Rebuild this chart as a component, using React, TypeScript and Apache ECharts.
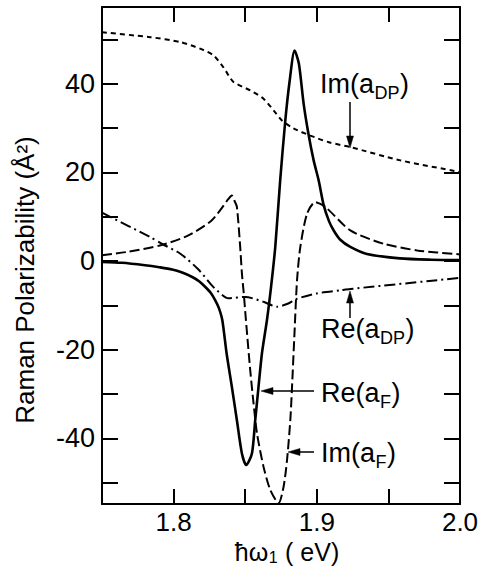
import React, { useEffect, useRef } from "react";
import * as echarts from "echarts";

const xTicks = [1.8, 1.85, 1.9, 1.95];
const xLabels = [1.8, 1.9, 2.0];
const yTicks = [-50, -40, -30, -20, -10, 0, 10, 20, 30, 40, 50];
const yLabels = [-40, -20, 0, 20, 40];

// Re(a_F) — solid
const reF: [number, number][] = [
  [1.75, -0.2], [1.764, -0.4], [1.78, -0.95], [1.79, -1.4], [1.799, -1.9],
  [1.806, -2.6], [1.813, -3.6], [1.818, -4.6], [1.822, -5.8], [1.826, -7.2],
  [1.829, -8.8], [1.8315, -10.5], [1.834, -13.3], [1.837, -20.8], [1.8407, -28.4],
  [1.8442, -35.9], [1.8477, -43.4], [1.8507, -46.0], [1.8547, -43.4], [1.857, -35.9],
  [1.8593, -28.4], [1.8617, -20.8], [1.8652, -13.3], [1.868, -6], [1.871, 3.2],
  [1.8745, 18.5], [1.878, 31.7], [1.881, 40.5], [1.8845, 47.5], [1.8875, 44.5],
  [1.8908, 35.5], [1.894, 29], [1.8978, 22.7], [1.9013, 18.2], [1.9048, 12.6],
  [1.9085, 9], [1.9118, 6.9], [1.9164, 4.8], [1.9234, 3.2], [1.935, 1.6],
  [1.958, 0.6], [1.98, 0.3], [2.0, 0.2],
];

// Im(a_F) — long dashes
const imF: [number, number][] = [
  [1.75, 1.3], [1.7684, 2.1], [1.7917, 3.6], [1.8103, 5.8], [1.8267, 9.2],
  [1.8383, 14.0], [1.8406, 14.8], [1.8425, 13.6], [1.8442, 12.2], [1.8465, 3.2],
  [1.8477, -2.8], [1.849, -7.3], [1.8505, -13.3], [1.8535, -24.6], [1.8558, -32],
  [1.8582, -38.8], [1.8628, -46.4], [1.8675, -51.6], [1.8733, -54.6], [1.8768, -50.9],
  [1.8792, -44.9], [1.8815, -35.9], [1.8827, -28.4], [1.8843, -17.1], [1.8862, -4.3],
  [1.8885, 3.2], [1.8932, 10.7], [1.899, 13.3], [1.906, 12.2], [1.9234, 6.9],
  [1.9467, 3.9], [1.9701, 2.4], [2.0, 1.5],
];

// Im(a_DP) — short dashes
const imDP: [number, number][] = [
  [1.75, 51.6], [1.7836, 50.5], [1.8045, 49.4], [1.8185, 47.9], [1.8278, 46.4],
  [1.8348, 43.7], [1.8418, 40.4], [1.8535, 38.5], [1.8628, 36.6], [1.8698, 34.0],
  [1.8757, 31.7], [1.8838, 29.9], [1.8955, 28.3], [1.9083, 26.8], [1.9234, 25.7],
  [1.9584, 22.7], [2.0, 20.1],
];

// Re(a_DP) — dash-dot
const reDP: [number, number][] = [
  [1.75, 10.9], [1.7836, 5.4], [1.7917, 3.9], [1.8045, 1.7], [1.817, -1.8],
  [1.8267, -5.5], [1.8302, -6.6], [1.8383, -8.4], [1.85, -8.1], [1.8628, -9.2],
  [1.8722, -10.3], [1.8792, -9.7], [1.8862, -8.5], [1.9001, -7.3], [1.9164, -6.6],
  [1.9234, -6.3], [2.0, -3.8],
];

const FAMILY = '"Liberation Sans", Arial, sans-serif';

let measureCtx: CanvasRenderingContext2D | null = null;
function measure(text: string, size: number): number {
  if (!measureCtx) measureCtx = document.createElement("canvas").getContext("2d");
  if (!measureCtx) return text.length * size * 0.55;
  measureCtx.font = `${size}px ${FAMILY}`;
  return measureCtx.measureText(text).width;
}

function txt(text: string, x: number, y: number, size: number) {
  return {
    type: "text",
    x,
    y,
    style: {
      text,
      font: `${size}px ${FAMILY}`,
      fill: "#000",
      align: "left",
      verticalAlign: "middle",
      textAlign: "left",
      textVerticalAlign: "middle",
    },
  };
}

// main text, subscript, closing text — subscript lowered
function subLabel(pre: string, sub: string, post: string, x: number, y: number, size: number, subSize: number, drop: number) {
  const w1 = measure(pre, size);
  const w2 = measure(sub, subSize);
  return [
    txt(pre, x, y, size),
    txt(sub, x + w1 + 0.5, y + drop, subSize),
    txt(post, x + w1 + w2 + 1, y, size),
  ];
}

export default function App() {
  const ref = useRef<HTMLDivElement>(null);
  useEffect(() => {
    const chart = echarts.init(ref.current!, null, { renderer: "svg" });
    const axisLine = { show: true, onZero: false, lineStyle: { color: "#000", width: 2 } };
    const tickStyle = { color: "#000", width: 2 };
    const xBase = {
      type: "value",
      min: 1.75,
      max: 2.0,
      axisLine,
      splitLine: { show: false },
      axisTick: { show: true, inside: true, length: 15, customValues: xTicks, lineStyle: tickStyle },
    };
    const yBase = {
      type: "value",
      min: -54.8,
      max: 57.3,
      axisLine,
      splitLine: { show: false },
      axisTick: { show: true, inside: true, length: 16, customValues: yTicks, lineStyle: tickStyle },
    };
    const lineSeries = (data: [number, number][], width: number, type: any) => ({
      type: "line",
      data,
      showSymbol: false,
      symbol: "none",
      smooth: 0.25,
      lineStyle: { color: "#000", width, type },
      xAxisIndex: 0,
      yAxisIndex: 0,
    });
    const arrowLine = (x1: number, y1: number, x2: number, y2: number) => ({
      type: "line",
      shape: { x1, y1, x2, y2 },
      style: { stroke: "#000", lineWidth: 1.5 },
    });
    const head = (pts: number[][]) => ({
      type: "polygon",
      shape: { points: pts },
      style: { fill: "#000", stroke: "#000", lineWidth: 0.5 },
    });

    // x axis title, centred at 287
    const tSize = 25, tSub = 16;
    const tw = measure("ħω", tSize) + measure("1", tSub) + measure(" ( eV)", tSize) + 1;
    const xTitle = subLabel("ħω", "1", " ( eV)", 287 - tw / 2, 552, tSize, tSub, 5);

    const A = 27, S = 18, D = 9;
    chart.setOption({
      animation: false,
      backgroundColor: "#fff",
      grid: { left: 102, right: 22, top: 7, bottom: 63 },
      xAxis: [
        {
          ...xBase,
          position: "bottom",
          axisLabel: {
            customValues: xLabels,
            formatter: (v: number) => v.toFixed(1),
            fontSize: 26,
            fontFamily: FAMILY,
            color: "#000",
            margin: 5,
          },
        },
        { ...xBase, position: "top", axisLabel: { show: false } },
      ],
      yAxis: [
        {
          ...yBase,
          position: "left",
          axisLabel: {
            customValues: yLabels,
            formatter: (v: number) => String(v),
            fontSize: 27,
            fontFamily: FAMILY,
            color: "#000",
            margin: 7,
          },
        },
        { ...yBase, position: "right", axisLabel: { show: false } },
      ],
      series: [
        lineSeries(imDP, 2, [5, 4]),
        lineSeries(reDP, 2, [11, 4, 2, 4]),
        lineSeries(imF, 2, [10, 4]),
        lineSeries(reF, 2.6, "solid"),
      ],
      graphic: [
        {
          type: "text",
          x: 25,
          y: 280,
          rotation: Math.PI / 2,
          style: {
            text: "Raman Polarizability (Å²)",
            font: `26px ${FAMILY}`,
            fill: "#000",
            align: "center",
            verticalAlign: "middle",
            textAlign: "center",
            textVerticalAlign: "middle",
          },
        },
        ...xTitle,
        ...subLabel("Im(a", "DP", ")", 320, 84, A, S, D),
        ...subLabel("Re(a", "DP", ")", 321, 329, A, S, D),
        ...subLabel("Re(a", "F", ")", 321, 393, A, S, D),
        ...subLabel("Im(a", "F", ")", 321, 453, A, S, D),
        arrowLine(350, 102, 350, 140),
        head([[350, 148], [346.5, 136], [353.5, 136]]),
        arrowLine(350, 318, 350, 300),
        head([[350, 291], [346.5, 303], [353.5, 303]]),
        arrowLine(314, 391, 270, 391),
        head([[261, 391], [273, 387.5], [273, 394.5]]),
        arrowLine(314, 452, 296, 452),
        head([[288, 452], [300, 448.5], [300, 455.5]]),
      ],
    });
    return () => chart.dispose();
  }, []);
  return (
    <div
      ref={ref}
      style={{ position: "fixed", left: 0, top: 0, width: 482, height: 567, background: "#fff" }}
    />
  );
}
